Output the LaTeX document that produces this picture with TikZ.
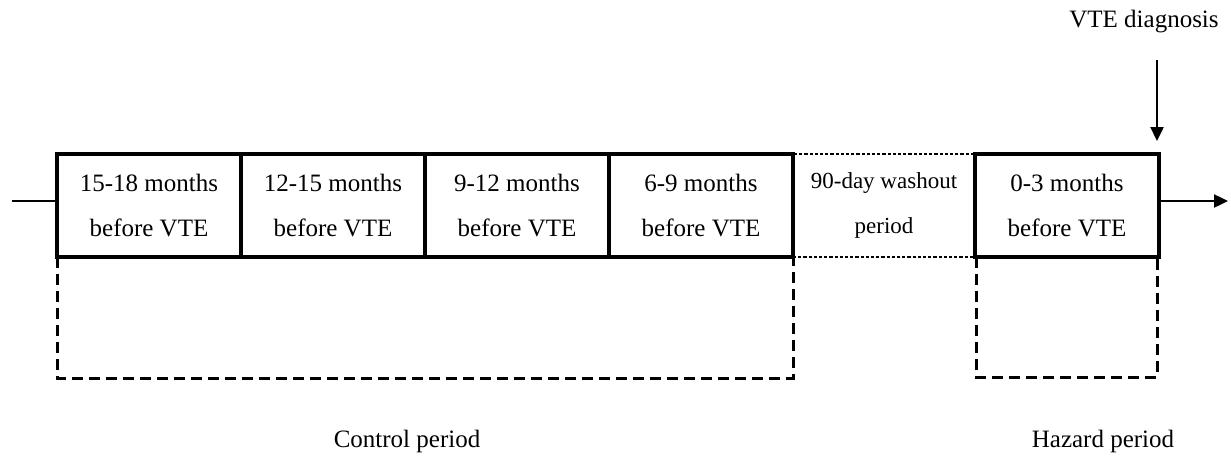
\documentclass[tikz,border=0pt]{standalone}
\usepackage{fontspec}
\setmainfont{Liberation Serif}
\usetikzlibrary{arrows.meta}
\begin{document}
\begin{tikzpicture}[x=1pt,y=-1pt,
  period/.style={draw, line width=3.2pt, minimum height=103pt, inner sep=0pt, outer sep=0pt,
     align=center, font=\fontsize{25}{45}\selectfont},
  washbox/.style={period, dotted, line width=2.4pt, font=\fontsize{23}{45}\selectfont},
  bracket/.style={line width=3pt, dash pattern=on 11pt off 6pt},
  lbl/.style={font=\fontsize{25}{30}\selectfont, inner sep=0pt},
  arr/.style={line width=2.4pt, -{Triangle[length=14pt,width=13pt]}}]
\useasboundingbox (0,0) rectangle (1231,458);
\node[period, minimum width=184pt] (b1) at (149,205.5) {15-18 months\\before VTE};
\node[period, minimum width=184pt] (b2) at (333,205.5) {12-15 months\\before VTE};
\node[period, minimum width=184pt] (b3) at (517,205.5) {9-12 months\\before VTE};
\node[period, minimum width=184pt] (b4) at (701,205.5) {6-9 months\\before VTE};
\node[washbox, minimum width=182pt] (b5) at (884,205.5) {90-day washout\\period};
\node[period, minimum width=184pt] (b6) at (1067,205.5) {0-3 months\\before VTE};
% time axis
\coordinate (start) at (12,201);
\coordinate (finish) at (1228,201);
\draw[line width=2.4pt] (start) -- (start -| b1.west);
\draw[arr] (finish -| b6.east) -- (finish);
% VTE diagnosis
\node[lbl] (diag) at (1144,22) {VTE diagnosis};
\coordinate (dtop) at (1157,60);
\draw[arr] (dtop) -- (1157,141);
% brackets
\draw[bracket] (b1.south west) -- ++(0,121) -| (b4.south east);
\draw[bracket] ([xshift=1pt]b6.south west) -- ++(0,120) -| ([xshift=-2pt]b6.south east);
\node[lbl] (ctrl) at (407,441) {Control period};
\node[lbl] (haz) at (1103,441) {Hazard period};
\end{tikzpicture}
\end{document}
